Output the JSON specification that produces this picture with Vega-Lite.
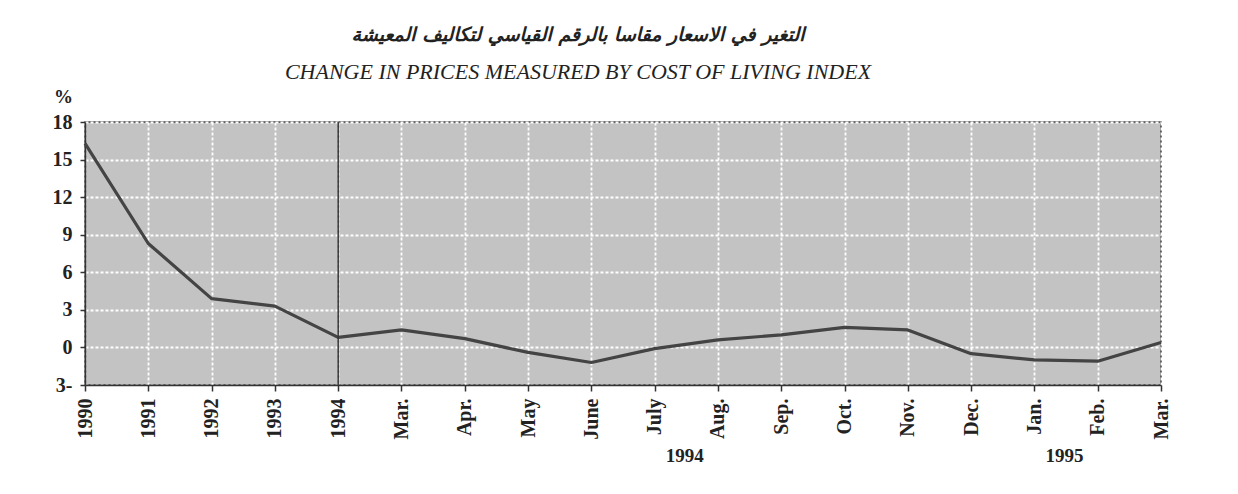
{
  "$schema": "https://vega.github.io/schema/vega-lite/v6.json",
  "autosize": "none",
  "width": 1076,
  "height": 263,
  "padding": {"left": 85, "top": 122, "right": 77, "bottom": 109},
  "background": "white",
  "title": {
    "text": "التغير في الاسعار مقاسا بالرقم القياسي لتكاليف المعيشة",
    "subtitle": "CHANGE IN PRICES MEASURED BY COST OF LIVING INDEX",
    "anchor": "middle",
    "dx": -45,
    "offset": 4,
    "font": "DejaVu Sans",
    "fontSize": 19,
    "fontStyle": "italic",
    "fontWeight": "bold",
    "color": "#222",
    "subtitleFont": "Liberation Serif",
    "subtitleFontSize": 22,
    "subtitleFontStyle": "italic",
    "subtitleColor": "#222",
    "subtitlePadding": 17
  },
  "datasets": {
    "cpi": [
      {"period": "1990", "change": 16.3},
      {"period": "1991", "change": 8.3},
      {"period": "1992", "change": 3.9},
      {"period": "1993", "change": 3.3},
      {"period": "1994", "change": 0.8},
      {"period": "Mar. 1994", "change": 1.4},
      {"period": "Apr. 1994", "change": 0.7},
      {"period": "May 1994", "change": -0.4},
      {"period": "June 1994", "change": -1.2},
      {"period": "July 1994", "change": -0.1},
      {"period": "Aug. 1994", "change": 0.6},
      {"period": "Sep. 1994", "change": 1.0},
      {"period": "Oct. 1994", "change": 1.6},
      {"period": "Nov. 1994", "change": 1.4},
      {"period": "Dec. 1994", "change": -0.5},
      {"period": "Jan. 1995", "change": -1.0},
      {"period": "Feb. 1995", "change": -1.1},
      {"period": "Mar. 1995", "change": 0.4}
    ],
    "years": [
      {"period": "July 1994", "label": "1994"},
      {"period": "Jan. 1995", "label": "1995"}
    ]
  },
  "layer": [
    {
      "data": {"name": "cpi"},
      "mark": {"type": "line", "color": "#444", "strokeWidth": 3.2, "strokeJoin": "round"},
      "encoding": {
        "x": {
          "field": "period",
          "type": "ordinal",
          "sort": null,
          "scale": {"type": "point", "padding": 0},
          "axis": {
            "title": null,
            "labelAngle": 270,
            "labelAlign": "right",
            "labelBaseline": "middle",
            "labelPadding": 7,
            "labelOverlap": false,
            "labelExpr": "split(datum.label, ' ')[0]",
            "labelFont": "Liberation Serif",
            "labelFontSize": 20,
            "labelFontWeight": "bold",
            "labelColor": "#222",
            "tickColor": "#333",
            "tickSize": 6,
            "tickWidth": 1.5,
            "domainColor": "#333",
            "domainWidth": 1.5,
            "grid": true,
            "gridColor": "white",
            "gridDash": [3, 2],
            "gridWidth": 1.8
          }
        },
        "y": {
          "field": "change",
          "type": "quantitative",
          "scale": {"domain": [-3, 18], "nice": false, "zero": false},
          "axis": {
            "values": [-3, 0, 3, 6, 9, 12, 15, 18],
            "tickCount": 20,
            "labelOverlap": false,
            "labelExpr": "datum.value < 0 ? (abs(datum.value) + '-') : datum.value",
            "title": "%",
            "titleAngle": 0,
            "titleX": -22,
            "titleY": -26,
            "titleAlign": "center",
            "titleBaseline": "middle",
            "titleFont": "Liberation Serif",
            "titleFontSize": 19,
            "titleFontWeight": "bold",
            "titleColor": "#222",
            "labelFont": "Liberation Serif",
            "labelFontSize": 20,
            "labelFontWeight": "bold",
            "labelColor": "#222",
            "labelPadding": 8,
            "tickColor": "#333",
            "tickSize": 5,
            "tickWidth": 1.5,
            "domainColor": "#333",
            "domainWidth": 1.5,
            "grid": true,
            "gridColor": "white",
            "gridDash": [3, 2],
            "gridWidth": 1.8
          }
        }
      }
    },
    {
      "data": {"values": [{"period": "1994"}]},
      "mark": {"type": "rule", "color": "#333", "strokeWidth": 1.5},
      "encoding": {
        "x": {"field": "period", "type": "ordinal", "sort": null}
      }
    },
    {
      "data": {"name": "years"},
      "mark": {
        "type": "text",
        "font": "Liberation Serif",
        "fontSize": 19,
        "fontWeight": "bold",
        "color": "#222",
        "dx": 30,
        "dy": 71,
        "baseline": "middle",
        "align": "center"
      },
      "encoding": {
        "x": {"field": "period", "type": "ordinal", "sort": null},
        "y": {"datum": -3, "type": "quantitative"},
        "text": {"field": "label"}
      }
    }
  ],
  "config": {
    "view": {"fill": "#c3c3c3", "stroke": "#444", "strokeWidth": 1.5}
  }
}
